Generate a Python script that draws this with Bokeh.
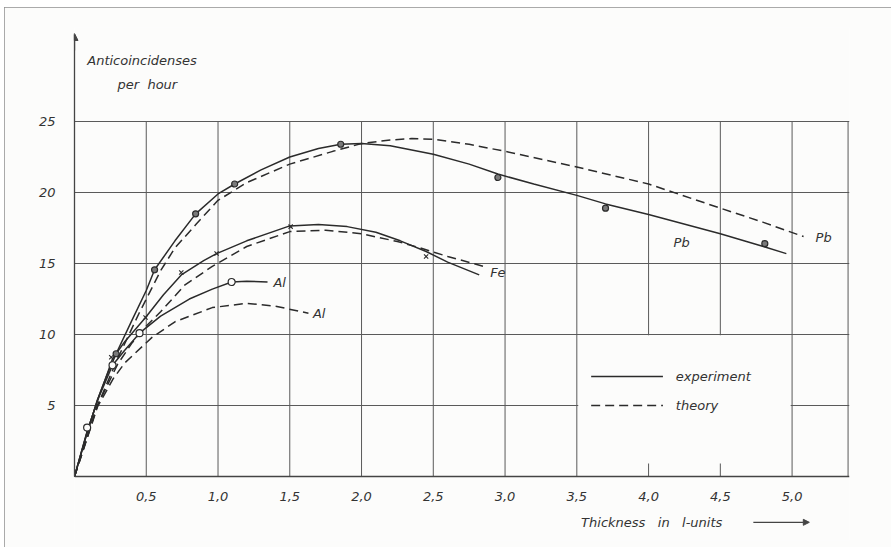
from bokeh.plotting import figure
from bokeh.models import Range1d, FixedTicker, Label, Arrow, NormalHead
from bokeh.embed import file_html
from bokeh.resources import INLINE

# ---------------- data ----------------
x_ticks = [0.5, 1.0, 1.5, 2.0, 2.5, 3.0, 3.5, 4.0, 4.5, 5.0]
x_tick_labels = ["0,5", "1,0", "1,5", "2,0", "2,5", "3,0", "3,5", "4,0", "4,5", "5,0"]
y_ticks = [5, 10, 15, 20, 25]
y_tick_labels = ["5", "10", "15", "20", "25"]

# Pb
pb_exp_x = [0, 0.088, 0.16, 0.22, 0.29, 0.4, 0.5, 0.558, 0.7, 0.844, 1.0, 1.116, 1.3, 1.5,
            1.7, 1.855, 2.0, 2.2, 2.5, 2.75, 2.95, 3.2, 3.5, 3.7, 4.0, 4.5, 4.8, 4.96]
pb_exp_y = [0, 3.1, 5.4, 7.0, 8.65, 11.0, 13.1, 14.56, 16.6, 18.5, 19.9, 20.6, 21.6, 22.5,
            23.1, 23.4, 23.45, 23.3, 22.7, 22.0, 21.3, 20.6, 19.8, 19.2, 18.45, 17.1, 16.2, 15.7]
pb_th_x = [0, 0.16, 0.3, 0.45, 0.6, 0.7, 0.85, 1.0, 1.2, 1.5, 1.8, 2.0, 2.2, 2.35, 2.5,
           2.75, 3.0, 3.5, 4.0, 4.5, 4.8, 5.08]
pb_th_y = [0, 5.0, 8.3, 11.5, 14.5, 16.1, 17.8, 19.45, 20.7, 22.0, 22.9, 23.45, 23.7, 23.8,
           23.75, 23.4, 22.9, 21.8, 20.6, 18.9, 17.9, 16.9]
pb_pts_x = [0.29, 0.558, 0.844, 1.116, 1.855, 2.95, 3.70, 4.81]
pb_pts_y = [8.65, 14.56, 18.5, 20.6, 23.4, 21.06, 18.9, 16.4]

# Fe
fe_exp_x = [0, 0.088, 0.16, 0.22, 0.265, 0.35, 0.495, 0.62, 0.744, 0.9, 0.99, 1.2, 1.5,
            1.7, 1.9, 2.1, 2.27, 2.45, 2.6, 2.82]
fe_exp_y = [0, 3.1, 5.4, 7.0, 8.3, 9.5, 11.2, 12.8, 14.2, 15.2, 15.7, 16.6, 17.65,
            17.75, 17.6, 17.2, 16.6, 15.85, 15.1, 14.2]
fe_th_x = [0, 0.16, 0.3, 0.4, 0.5, 0.6, 0.77, 0.96, 1.2, 1.5, 1.75, 2.0, 2.25, 2.41, 2.6, 2.85]
fe_th_y = [0, 5.0, 7.9, 9.4, 10.6, 11.6, 13.5, 14.8, 16.2, 17.25, 17.35, 17.1, 16.55, 16.1,
           15.5, 14.8]
fe_pts_x = [0.256, 0.495, 0.744, 0.99, 1.506, 2.45]
fe_pts_y = [8.4, 11.2, 14.37, 15.7, 17.6, 15.5]

# Al
al_exp_x = [0, 0.088, 0.17, 0.265, 0.35, 0.453, 0.6, 0.8, 0.96, 1.095, 1.2, 1.345]
al_exp_y = [0, 3.2, 5.6, 7.84, 8.9, 10.1, 11.3, 12.5, 13.2, 13.7, 13.75, 13.7]
al_th_x = [0, 0.16, 0.27, 0.35, 0.54, 0.7, 0.96, 1.2, 1.4, 1.63]
al_th_y = [0, 4.9, 6.9, 8.0, 9.8, 10.9, 11.9, 12.2, 12.0, 11.5]
al_pts_x = [0.088, 0.265, 0.453, 1.095]
al_pts_y = [3.45, 7.84, 10.1, 13.7]

# ---------------- style ----------------
INK = "#2b2b2b"
GRID = "#5a5a5a"
AXIS = "#444444"
TXT = "#333333"
FONT = "DejaVu Sans"
BG = "#fcfcfb"
DASH = "9 5"
LW = 1.5
NB = "\u00a0"

p = figure(width=887, height=540,
           x_range=Range1d(0, 5.40), y_range=Range1d(-4.5, 31.62),
           output_backend="svg", toolbar_location=None,
           min_border_left=70, min_border_right=42,
           min_border_top=20, min_border_bottom=7,
           background_fill_color=BG, border_fill_color=BG,
           outline_line_color=None)
p.styles = {"margin-left": "4px", "margin-top": "7px",
            "outline": "2px solid #8f8f8f", "outline-offset": "-2px"}

# grid: horizontal via Grid, vertical as segments limited to the box
p.xgrid.visible = False
p.ygrid.ticker = FixedTicker(ticks=y_ticks)
p.ygrid.grid_line_color = GRID
p.ygrid.grid_line_width = 1

box_right = 5.39
box_top = 25
vx = x_ticks + [box_right]
p.segment(x0=vx, y0=[0] * len(vx), x1=vx, y1=[box_top] * len(vx),
          line_color=GRID, line_width=1)

# legend white area (covers grid)
p.quad(left=[3.51], right=[4.99], bottom=[0.92], top=[9.95],
       fill_color=BG, line_color=None)

# axes
for ax in (p.xaxis[0], p.yaxis[0]):
    ax.major_tick_line_color = None
    ax.minor_tick_line_color = None
    ax.axis_line_color = AXIS
    ax.axis_line_width = 1.3
    ax.major_label_text_font = FONT
    ax.major_label_text_font_style = "italic"
    ax.major_label_text_font_size = "13px"
    ax.major_label_text_color = TXT

p.xaxis.fixed_location = 0
p.xaxis.ticker = FixedTicker(ticks=x_ticks)
p.xaxis.major_label_overrides = dict(zip(x_ticks, x_tick_labels))
p.xaxis.major_label_standoff = 9
p.yaxis.ticker = FixedTicker(ticks=y_ticks)
p.yaxis.major_label_overrides = dict(zip(y_ticks, y_tick_labels))
p.yaxis.major_label_standoff = 13
p.yaxis.bounds = (0, 31.1)

p.add_layout(Arrow(end=NormalHead(size=7, fill_color=AXIS, line_color=AXIS),
                   x_start=0, y_start=30.0, x_end=0, y_end=31.2,
                   line_color=AXIS, line_width=1.3))

# curves
p.line(pb_exp_x, pb_exp_y, line_color=INK, line_width=LW)
p.line(pb_th_x, pb_th_y, line_color=INK, line_width=LW, line_dash=DASH)
p.line(fe_exp_x, fe_exp_y, line_color=INK, line_width=LW)
p.line(fe_th_x, fe_th_y, line_color=INK, line_width=LW, line_dash=DASH)
p.line(al_exp_x, al_exp_y, line_color=INK, line_width=LW)
p.line(al_th_x, al_th_y, line_color=INK, line_width=LW, line_dash=DASH)

# points
p.scatter(pb_pts_x, pb_pts_y, marker="circle", size=6, fill_color="#7a7a7a",
          line_color=INK, line_width=1.2)
p.scatter(fe_pts_x, fe_pts_y, marker="x", size=6, line_color=INK, line_width=1.1)
p.scatter(al_pts_x, al_pts_y, marker="circle", size=7, fill_color=BG,
          line_color=INK, line_width=1.2)

# labels
def lab(x, y, t, align="center", base="middle", size="13px"):
    p.add_layout(Label(x=x, y=y, text=t, text_font=FONT, text_font_style="italic",
                       text_font_size=size, text_color=TXT, text_align=align,
                       text_baseline=base))

lab(4.23, 16.5, "Pb")
lab(5.22, 16.8, "Pb")
lab(2.95, 14.4, "Fe")
lab(1.43, 13.7, "Al")
lab(1.705, 11.5, "Al")

# legend
p.line([3.60, 4.10], [7.05, 7.05], line_color=INK, line_width=LW)
p.line([3.60, 4.10], [5.0, 5.0], line_color=INK, line_width=LW, line_dash=DASH)
lab(4.19, 7.05, "experiment", align="left")
lab(4.19, 5.0, "theory", align="left")

# axis titles
lab(0.089, 29.3, "Anticoincidenses", align="left")
lab(0.30, 27.6, "per" + NB * 2 + "hour", align="left")
lab(3.53, -3.22, "Thickness" + NB * 3 + "in" + NB * 3 + "l-units", align="left")
p.add_layout(Arrow(end=NormalHead(size=6, fill_color=AXIS, line_color=AXIS),
                   x_start=4.73, y_start=-3.22, x_end=5.12, y_end=-3.22,
                   line_color=AXIS, line_width=1.2))

open("out.html", "w").write(file_html(p, INLINE))
